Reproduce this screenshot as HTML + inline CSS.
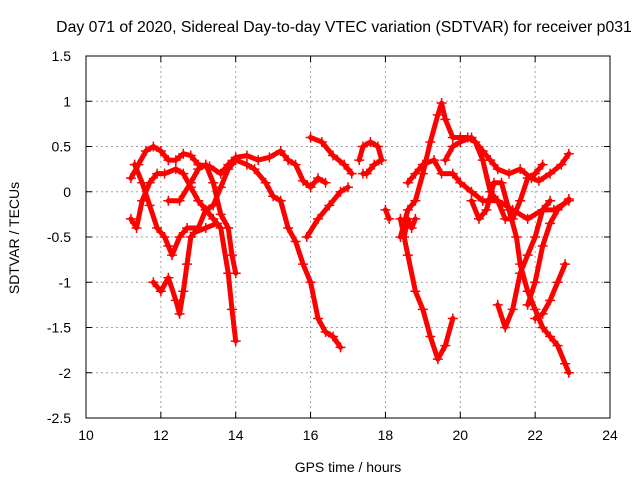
<!DOCTYPE html>
<html><head><meta charset="utf-8"><style>
body{margin:0;background:#fff}
svg text{font-family:"Liberation Sans",sans-serif;font-size:14px;fill:#000}
</style></head><body>
<svg id="c" width="640" height="480">
<rect width="640" height="480" fill="#fff"/>
<g id="grid"></g><g id="series"></g><g id="axes"></g>
<text x="344" y="32" text-anchor="middle" style="font-size:15.8px">Day 071 of 2020, Sidereal Day-to-day VTEC variation (SDTVAR) for receiver p031</text>
<text x="348" y="472" text-anchor="middle">GPS time / hours</text>
<text x="0" y="0" text-anchor="middle" transform="translate(19,238) rotate(-90)">SDTVAR / TECUs</text>
</svg>
<script>
const xTicks=[10,12,14,16,18,20,22,24];
const yTicks=[-2.5,-2,-1.5,-1,-0.5,0,0.5,1,1.5];
const yTickLabels=["-2.5","-2","-1.5","-1","-0.5","0","0.5","1","1.5"];
const trackHours=[
[11.2,11.4,11.6,11.8,12.0,12.2,12.4,12.6,12.8,13.0,13.3,13.6,13.8,14.0,14.3,14.6,14.9,15.2,15.4,15.6,15.8,16.0,16.2,16.4],
[11.2,11.35,11.5,11.7,11.9,12.1,12.4,12.6,12.8,13.0,13.2,13.4,13.6,13.8,13.9,14.0],
[11.3,11.5,11.7,11.9,12.1,12.2,12.3,12.5,12.7,13.0,13.2,13.4,13.6,13.8,14.0,14.3,14.5,14.8,15.0,15.2,15.4,15.6,15.8,16.0,16.2,16.4,16.6,16.8],
[11.8,12.0,12.2,12.4,12.5,12.6,12.7,12.8,12.9,13.2,13.5],
[12.2,12.5,12.8,13.0,13.2,13.4,13.6,13.8,13.9,14.0],
[17.3,17.4,17.6,17.8,17.9,17.7,17.5,17.4],
[18.0,18.1],
[16.0,16.3,16.6,16.9,17.1],
[15.9,16.2,16.5,16.8,17.0],
[18.4,18.6,18.8,19.0,19.2,19.4,19.5,19.6,19.8,20.0,20.2,20.4,20.6,20.8,21.0,21.2,21.4,21.6,21.8,22.0,22.2],
[18.4,18.6,18.8,19.0,19.2,19.4,19.6,19.8],
[18.6,18.8,19.0,19.3,19.5,19.8,20.0,20.3,20.6,21.0,21.4,21.8,22.2,22.5,22.9],
[19.6,19.8,20.0,20.3,20.6,20.8,21.0,21.3,21.6,21.9,22.1,22.4,22.7,22.9],
[20.3,20.5,20.7,20.9,21.1,21.3,21.5,21.6,21.8,22.0,22.2,22.4,22.6,22.8,22.9],
[21.0,21.2,21.4,21.6,21.8,22.0,22.2,22.4],
[22.0,22.2,22.4,22.6,22.8],
[21.8,22.0,22.2,22.4,22.6,22.9],
[18.5,18.6,18.7,18.8]
];
const trackValues=[
[0.15,0.3,0.45,0.5,0.45,0.35,0.35,0.42,0.4,0.3,0.28,0.2,0.3,0.38,0.4,0.35,0.38,0.45,0.35,0.3,0.12,0.05,0.15,0.1],
[-0.3,-0.4,-0.1,0.1,0.2,0.2,0.25,0.2,0.05,-0.1,-0.2,-0.3,-0.4,-0.9,-1.3,-1.65],
[0.3,0.1,-0.15,-0.4,-0.5,-0.6,-0.7,-0.5,-0.4,-0.4,-0.2,-0.15,0.05,0.25,0.35,0.3,0.25,0.1,-0.05,-0.1,-0.4,-0.55,-0.8,-1.0,-1.4,-1.55,-1.6,-1.72],
[-1.0,-1.1,-0.95,-1.2,-1.35,-1.1,-0.8,-0.5,-0.45,-0.4,-0.35],
[-0.1,-0.1,0.1,0.25,0.3,0.1,-0.25,-0.4,-0.7,-0.9],
[0.35,0.5,0.55,0.5,0.35,0.3,0.2,0.2],
[-0.2,-0.3],
[0.6,0.55,0.4,0.3,0.2],
[-0.5,-0.3,-0.15,0.0,0.05],
[-0.5,-0.2,-0.1,0.2,0.55,0.85,0.98,0.8,0.6,0.6,0.6,0.55,0.35,0.0,-0.1,-0.3,-0.3,-0.1,0.15,0.2,0.3],
[-0.3,-0.7,-1.1,-1.3,-1.6,-1.85,-1.7,-1.4],
[0.1,0.2,0.3,0.35,0.2,0.2,0.1,0.0,-0.1,-0.1,-0.2,-0.3,-0.2,-0.2,-0.1],
[0.35,0.5,0.55,0.6,0.45,0.35,0.25,0.2,0.25,0.15,0.12,0.2,0.3,0.42],
[-0.1,-0.3,-0.2,0.1,0.1,-0.2,-0.5,-0.8,-1.1,-1.3,-1.5,-1.6,-1.7,-1.9,-2.0],
[-1.25,-1.5,-1.3,-0.9,-0.7,-0.5,-0.2,-0.1],
[-1.4,-1.35,-1.2,-1.0,-0.8],
[-1.25,-1.0,-0.6,-0.35,-0.2,-0.08],
[-0.5,-0.3,-0.4,-0.3]
];
const L=86,R=610,T=56,B=418;
const sx=h=>L+(h-10)/14*(R-L);
const sy=v=>T+(1.5-v)/4*(B-T);
const NS='http://www.w3.org/2000/svg';
function mk(tag,attrs,parent){const e=document.createElementNS(NS,tag);for(const k in attrs)e.setAttribute(k,attrs[k]);parent.appendChild(e);return e;}
const grid=document.getElementById('grid'),axes=document.getElementById('axes'),ser=document.getElementById('series');
xTicks.forEach(t=>{const x=sx(t);
 if(t>10&&t<24){const g=mk('line',{x1:x,x2:x,y1:T,y2:B,stroke:'#a0a0a0','stroke-dasharray':'2,3'},grid);
 
 }
 mk('line',{x1:x,x2:x,y1:B,y2:B-6,stroke:'#000'},axes);mk('line',{x1:x,x2:x,y1:T,y2:T+6,stroke:'#000'},axes);
 const tx=mk('text',{x:x,y:B+22,'text-anchor':'middle'},axes);tx.textContent=t;
 
 });
yTicks.forEach((t,i)=>{const y=sy(t);
 if(t>-2.5&&t<1.5){const g=mk('line',{x1:L,x2:R,y1:y,y2:y,stroke:'#a0a0a0','stroke-dasharray':'2,3'},grid);
 
 }
 mk('line',{x1:L,x2:L+6,y1:y,y2:y,stroke:'#000'},axes);mk('line',{x1:R,x2:R-6,y1:y,y2:y,stroke:'#000'},axes);
 const tx=mk('text',{x:L-15,y:y+5,'text-anchor':'end'},axes);tx.textContent=yTickLabels[i];
 
 });
const fr=mk('rect',{x:L,y:T,width:R-L,height:B-T,fill:'none',stroke:'#000'},axes);


trackHours.forEach((hs,k)=>{const vs=trackValues[k];
 const g=mk('g',{},ser);
 
 
 const pts=hs.map((h,i)=>sx(h)+','+sy(vs[i])).join(' ');
 mk('polyline',{points:pts,fill:'none',stroke:'#ff0000','stroke-width':5,'stroke-linejoin':'round','stroke-linecap':'round'},g);
 hs.forEach((h,i)=>{const x=sx(h),y=sy(vs[i]);
  mk('path',{d:`M${x-5},${y}H${x+5}M${x},${y-5}V${y+5}`,stroke:'#ff0000','stroke-width':1.5},g);});
});
</script>
</body></html>
